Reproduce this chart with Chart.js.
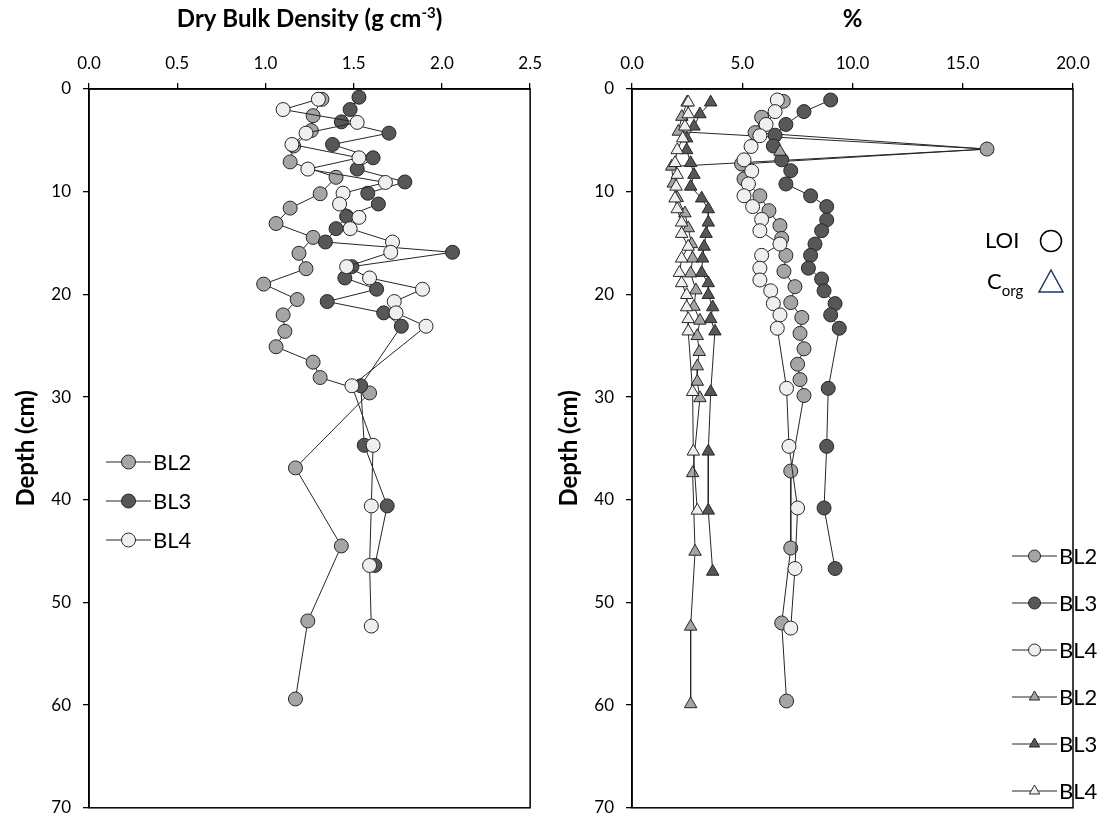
<!DOCTYPE html>
<html>
<head>
<meta charset="utf-8">
<script src="https://cdn.jsdelivr.net/npm/chart.js@4.4.0/dist/chart.umd.min.js"></script>
<style>
  html, body { margin: 0; background: #fff; overflow: hidden; }
  #wrap { position: relative; width: 1115px; height: 819px; overflow: hidden; }
  #left { position: absolute; left: 0; top: 0; }
  #right { position: absolute; left: 543px; top: 0; }
</style>
</head>
<body>
<div id="wrap">
  <canvas id="left" width="551" height="830" style="width:551px;height:830px"></canvas>
  <canvas id="right" width="572" height="830" style="width:572px;height:830px"></canvas>
</div>
<script>
// ---- dry bulk density (g cm-3) vs depth (cm)
const bl2Depth = [1.0, 2.6, 4.05, 5.55, 7.1, 8.6, 10.2, 11.6, 13.1, 14.45, 16.0, 17.5, 19.0, 20.5, 22.0, 23.6, 25.1, 26.6, 28.1, 29.6, 36.9, 44.5, 51.8, 59.4];
const bl2Dbd = [1.32, 1.27, 1.26, 1.16, 1.14, 1.40, 1.31, 1.14, 1.06, 1.27, 1.19, 1.23, 0.99, 1.18, 1.10, 1.11, 1.06, 1.27, 1.31, 1.59, 1.17, 1.43, 1.24, 1.17];
const bl3Depth = [0.8, 2.0, 3.2, 4.3, 5.4, 6.7, 7.8, 9.05, 10.15, 11.2, 12.4, 13.6, 14.9, 15.9, 17.3, 18.4, 19.5, 20.7, 21.8, 23.1, 28.9, 34.7, 40.6, 46.4];
const bl3Dbd = [1.53, 1.48, 1.43, 1.70, 1.38, 1.61, 1.52, 1.79, 1.58, 1.64, 1.46, 1.40, 1.34, 2.06, 1.49, 1.45, 1.63, 1.35, 1.67, 1.77, 1.54, 1.56, 1.69, 1.62];
const bl4Depth = [1.0, 2.0, 3.25, 4.3, 5.4, 6.7, 7.8, 9.1, 10.15, 11.2, 12.5, 13.6, 14.9, 15.9, 17.3, 18.4, 19.5, 20.7, 21.8, 23.1, 28.9, 34.7, 40.6, 46.4, 52.3];
const bl4Dbd = [1.30, 1.10, 1.52, 1.23, 1.15, 1.53, 1.24, 1.68, 1.44, 1.42, 1.53, 1.48, 1.72, 1.71, 1.46, 1.59, 1.89, 1.73, 1.74, 1.91, 1.49, 1.61, 1.60, 1.59, 1.60];

// ---- LOI (%) vs depth
const loi2Depth = [1.2, 2.75, 4.25, 5.85, 7.3, 8.76, 10.4, 11.85, 13.3, 14.55, 16.2, 17.75, 19.25, 20.8, 22.25, 23.8, 25.3, 26.8, 28.3, 29.85, 37.2, 44.7, 52.0, 59.6];
const loi2 = [6.86, 5.88, 5.58, 16.1, 4.97, 5.08, 5.80, 6.21, 6.71, 6.79, 6.98, 6.89, 7.39, 7.20, 7.70, 7.62, 7.80, 7.51, 7.62, 7.80, 7.20, 7.20, 6.79, 7.01];
const loi3Depth = [1.07, 2.2, 3.45, 4.5, 5.55, 6.9, 7.95, 9.25, 10.4, 11.45, 12.75, 13.8, 15.1, 16.2, 17.45, 18.5, 19.65, 20.9, 22.0, 23.3, 29.15, 34.8, 40.8, 46.7];
const loi3 = [9.01, 7.80, 6.98, 6.49, 6.41, 6.79, 7.20, 6.98, 8.10, 8.83, 8.83, 8.60, 8.30, 8.10, 8.00, 8.60, 8.71, 9.21, 9.01, 9.40, 8.90, 8.83, 8.71, 9.21];
const loi4Depth = [1.07, 2.2, 3.45, 4.55, 5.6, 6.9, 8.0, 9.25, 10.4, 11.45, 12.7, 13.8, 15.1, 16.2, 17.45, 18.6, 19.65, 20.9, 22.0, 23.3, 29.15, 34.8, 40.8, 46.7, 52.5];
const loi4 = [6.59, 6.49, 6.08, 5.80, 5.40, 5.08, 5.43, 5.28, 5.08, 5.47, 5.88, 5.80, 6.71, 5.88, 5.80, 5.80, 6.29, 6.41, 6.71, 6.59, 7.01, 7.12, 7.51, 7.39, 7.20];

// ---- Corg (%) vs depth
const corg2Depth = [1.3, 2.7, 4.15, 5.85, 7.55, 9.2, 10.6, 12.1, 13.55, 15.1, 16.5, 17.95, 19.6, 21.2, 22.55, 24.05, 25.6, 27.0, 28.5, 30.1, 37.4, 45.05, 52.35, 59.9];
const corg2 = [2.50, 2.26, 2.10, 16.1, 1.80, 1.87, 2.05, 2.40, 2.55, 2.70, 2.75, 2.66, 2.90, 2.81, 3.08, 2.96, 3.05, 2.96, 2.96, 3.08, 2.75, 2.86, 2.66, 2.66];
const corg2ExtraDepth = [6.1];
const corg2Extra = [6.71];
const corg3Depth = [1.3, 2.45, 3.65, 4.8, 5.95, 7.2, 8.35, 9.5, 10.65, 11.7, 13.0, 14.1, 15.35, 16.5, 17.9, 18.9, 20.05, 21.25, 22.4, 23.6, 29.5, 35.3, 41.05, 47.0];
const corg3 = [3.57, 3.08, 2.81, 2.48, 2.48, 2.66, 2.81, 2.66, 3.16, 3.46, 3.46, 3.36, 3.27, 3.20, 3.16, 3.46, 3.46, 3.66, 3.57, 3.76, 3.57, 3.46, 3.46, 3.66];
const corg4Depth = [1.3, 2.45, 3.65, 4.8, 5.95, 7.2, 8.35, 9.5, 10.65, 11.7, 13.0, 14.1, 15.35, 16.5, 17.9, 18.9, 20.05, 21.25, 22.4, 23.6, 29.5, 35.3, 41.05];
const corg4 = [2.55, 2.55, 2.40, 2.30, 2.05, 1.95, 2.05, 2.00, 1.95, 2.05, 2.25, 2.25, 2.55, 2.25, 2.15, 2.25, 2.48, 2.48, 2.55, 2.55, 2.75, 2.78, 2.96];

const depthTicks = [0, 10, 20, 30, 40, 50, 60, 70];

const FONT = 'Lato, "Open Sans", sans-serif';
const fill = { BL2: '#a5a5a5', BL3: '#575757', BL4: '#efefef' };
const EDGE = '#262626';

function pts(xs, ds) {
  return xs.map((x, i) => ({ x: x, y: ds[i] }));
}

function series(label, xs, ds, style, order, extra) {
  return Object.assign({
    label: label,
    data: pts(xs, ds),
    showLine: true,
    borderColor: EDGE,
    borderWidth: 1,
    pointStyle: style,
    pointRadius: style === 'triangle' ? 7.2 : 7,
    pointBorderColor: EDGE,
    pointBorderWidth: 1,
    pointBackgroundColor: fill[label],
    order: order
  }, extra || {});
}

function scales(xMax, xStep) {
  return {
    x: {
      type: 'linear', position: 'top', min: 0, max: xMax,
      ticks: { stepSize: xStep, callback: v => v.toFixed(1), color: '#000', font: { size: 17, family: FONT }, padding: 9 },
      grid: { drawOnChartArea: false, drawTicks: true, tickLength: 6, color: '#000', lineWidth: 1.3 },
      border: { color: '#000', width: 1.5 },
      afterFit: s => { s.height = 89; }
    },
    y: {
      type: 'linear', reverse: true, min: 0, max: 70,
      afterBuildTicks: s => { s.ticks = depthTicks.map(v => ({ value: v })); },
      ticks: { color: '#000', font: { size: 17, family: FONT }, padding: 12 },
      grid: { drawOnChartArea: false, drawTicks: true, tickLength: 6, color: '#000', lineWidth: 1.3 },
      border: { color: '#000', width: 1.5 },
      title: { display: true, text: 'Depth (cm)', color: '#000', font: { size: 24, weight: 'bold', family: FONT }, padding: { top: 12, bottom: 0 } },
      afterFit: s => { s.width = 89; }
    }
  };
}

// frame, titles and hand-placed legends
const decor = {
  id: 'decor',
  afterDraw(chart, args, opts) {
    const ctx = chart.ctx, a = chart.chartArea;
    ctx.save();
    ctx.strokeStyle = '#000';
    ctx.lineWidth = 1.5;
    ctx.strokeRect(a.left, a.top, a.right - a.left, a.bottom - a.top);

    // top title, with optional superscript part
    ctx.fillStyle = '#000';
    ctx.textBaseline = 'alphabetic';
    const big = 'bold 24px ' + FONT, small = 'bold 15px ' + FONT;
    ctx.font = big;
    let w = ctx.measureText(opts.title[0]).width;
    let w2 = 0, w3 = 0;
    if (opts.title.length > 1) {
      ctx.font = small; w2 = ctx.measureText(opts.title[1]).width;
      ctx.font = big; w3 = ctx.measureText(opts.title[2]).width;
    }
    let x0 = (a.left + a.right) / 2 - (w + w2 + w3) / 2;
    const by = 27;
    ctx.textAlign = 'left';
    ctx.font = big; ctx.fillText(opts.title[0], x0, by);
    if (opts.title.length > 1) {
      ctx.font = small; ctx.fillText(opts.title[1], x0 + w, by - 9);
      ctx.font = big; ctx.fillText(opts.title[2], x0 + w + w2, by);
    }

    // legend rows
    ctx.textBaseline = 'middle';
    opts.legend.items.forEach((it, i) => {
      const ds = chart.data.datasets[it];
      const y = opts.legend.y[i];
      const L = opts.legend;
      ctx.strokeStyle = EDGE; ctx.lineWidth = 1;
      ctx.beginPath(); ctx.moveTo(L.x0, y); ctx.lineTo(L.x1, y); ctx.stroke();
      ctx.fillStyle = ds.pointBackgroundColor;
      ctx.strokeStyle = EDGE;
      Chart.helpers.drawPoint(ctx, { pointStyle: ds.pointStyle, radius: L.r, rotation: 0, borderWidth: 1 }, (L.x0 + L.x1) / 2, y);
      ctx.fillStyle = '#000';
      ctx.font = '22px ' + FONT;
      ctx.textAlign = 'left';
      ctx.fillText(ds.label, L.x1 + 2, y + 1);
    });

    // LOI / Corg key
    if (opts.key) {
      const k = opts.key;
      ctx.font = '22px ' + FONT;
      ctx.fillStyle = '#000';
      ctx.textAlign = 'left';
      ctx.fillText('LOI', k.x, k.y1);
      ctx.fillText('C', k.x + 2, k.y2);
      const cw = ctx.measureText('C').width;
      ctx.font = '15px ' + FONT;
      ctx.fillText('org', k.x + 2 + cw, k.y2 + 9);
      ctx.lineWidth = 1.5;
      ctx.strokeStyle = '#000';
      ctx.beginPath(); ctx.arc(k.mx, k.y1, 10.5, 0, Math.PI * 2); ctx.stroke();
      ctx.strokeStyle = '#203864';
      ctx.beginPath();
      ctx.moveTo(k.mx, k.y2 - 12);
      ctx.lineTo(k.mx + 12, k.y2 + 10);
      ctx.lineTo(k.mx - 12, k.y2 + 10);
      ctx.closePath(); ctx.stroke();
    }
    ctx.restore();
  }
};

const common = {
  responsive: false,
  animation: false,
  events: [],
  plugins: { legend: { display: false }, tooltip: { enabled: false } }
};

new Chart(document.getElementById('left'), {
  type: 'scatter',
  data: {
    datasets: [
      series('BL2', bl2Dbd, bl2Depth, 'circle', 3),
      series('BL3', bl3Dbd, bl3Depth, 'circle', 2),
      series('BL4', bl4Dbd, bl4Depth, 'circle', 1)
    ]
  },
  options: Object.assign({}, common, {
    layout: { padding: { left: 0, top: 0, right: 0, bottom: 0 } },
    scales: scales(2.5, 0.5),
    plugins: Object.assign({}, common.plugins, {
      decor: {
        title: ['Dry Bulk Density (g cm', '-3', ')'],
        legend: { items: [0, 1, 2], x0: 106, x1: 151, r: 7, y: [462, 501, 540] }
      }
    })
  }),
  plugins: [decor]
});

new Chart(document.getElementById('right'), {
  type: 'scatter',
  data: {
    datasets: [
      series('BL2', loi2, loi2Depth, 'circle', 3),
      series('BL3', loi3, loi3Depth, 'circle', 2),
      series('BL4', loi4, loi4Depth, 'circle', 1),
      series('BL2', corg2, corg2Depth, 'triangle', 6),
      series('BL3', corg3, corg3Depth, 'triangle', 5),
      series('BL4', corg4, corg4Depth, 'triangle', 4),
      series('BL2', corg2Extra, corg2ExtraDepth, 'triangle', 0, { showLine: false })
    ]
  },
  options: Object.assign({}, common, {
    layout: { padding: { left: 0, top: 0, right: 42, bottom: 0 } },
    scales: scales(20, 5),
    plugins: Object.assign({}, common.plugins, {
      decor: {
        title: ['%'],
        legend: { items: [0, 1, 2, 3, 4, 5], x0: 1012 - 543, x1: 1057 - 543, r: 6, y: [556, 603, 650, 697, 744, 791] },
        key: { x: 985 - 543, mx: 1051 - 543, y1: 241, y2: 282 }
      }
    })
  }),
  plugins: [decor]
});
</script>
</body>
</html>
